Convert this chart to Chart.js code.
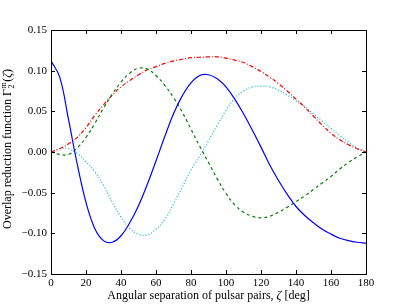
<!DOCTYPE html>
<html>
<head>
<meta charset="utf-8">
<script src="https://cdn.jsdelivr.net/npm/chart.js@4"></script>
<style>
  body { margin: 0; background: #fff; }
  #wrap { width: 407px; height: 305px; position: relative; }
</style>
</head>
<body>
<div id="wrap"><canvas id="myChart"></canvas></div>
<script>
const ctx = document.getElementById('myChart');

// angular separation in degrees
var angles = [0, 5, 10, 15, 20, 25, 30, 35, 40, 45, 50, 55, 60, 65, 70, 75, 80, 85, 90,
    95, 100, 105, 110, 115, 120, 125, 130, 135, 140, 145, 150, 155, 160, 165, 170, 175, 180];

// values
var blueSolid = [0.112, 0.092, 0.040, -0.015, -0.062, -0.094, -0.109, -0.111, -0.103, -0.087,
    -0.066, -0.040, -0.011, 0.019, 0.047, 0.069, 0.085, 0.094, 0.095, 0.090, 0.080, 0.065,
    0.047, 0.027, 0.006, -0.016, -0.035, -0.052, -0.067, -0.078, -0.087, -0.095, -0.101,
    -0.106, -0.109, -0.111, -0.112];
var greenDashed = [0.000, -0.003, -0.003, 0.005, 0.018, 0.035, 0.054, 0.071, 0.086, 0.097,
    0.103, 0.102, 0.094, 0.082, 0.067, 0.049, 0.028, 0.007, -0.013, -0.033, -0.051, -0.065,
    -0.074, -0.079, -0.081, -0.079, -0.074, -0.068, -0.061, -0.054, -0.046, -0.038, -0.030,
    -0.021, -0.013, -0.006, 0.000];
var redDashDot = [0.000, 0.004, 0.010, 0.018, 0.030, 0.045, 0.058, 0.070, 0.080, 0.088,
    0.095, 0.101, 0.105, 0.109, 0.112, 0.114, 0.116, 0.1165, 0.117, 0.117, 0.1155, 0.113,
    0.110, 0.105, 0.099, 0.092, 0.084, 0.075, 0.065, 0.055, 0.044, 0.033, 0.023, 0.015,
    0.009, 0.004, 0.000];
var cyanDotted = [0.000, 0.004, 0.004, -0.002, -0.012, -0.024, -0.041, -0.062, -0.080, -0.094,
    -0.101, -0.102, -0.095, -0.083, -0.064, -0.043, -0.022, -0.005, 0.014, 0.033, 0.051,
    0.066, 0.075, 0.080, 0.081, 0.080, 0.076, 0.070, 0.063, 0.056, 0.047, 0.038, 0.029,
    0.020, 0.012, 0.005, 0.000];

var xTicks = [0, 20, 40, 60, 80, 100, 120, 140, 160, 180];
var yTicks = [-0.15, -0.10, -0.05, 0.00, 0.05, 0.10, 0.15];

var serif = "'Liberation Serif', 'DejaVu Serif', serif";

function toPoints(values) {
    var pts = [];
    for (let i = 0; i < angles.length; i++) {
        pts.push({ x: angles[i], y: values[i] });
    }
    return pts;
}

function makeLine(values, color, dash) {
    return {
        data: toPoints(values),
        borderColor: color,
        borderWidth: 1.2,
        borderDash: dash,
        pointRadius: 0,
        fill: false,
        tension: 0.4
    };
}

// frame, inward ticks and the two axis titles
const framePlugin = {
    id: 'frame',
    afterDraw(chart) {
        var c = chart.ctx;
        var a = chart.chartArea;
        var xs = chart.scales.x;
        var ys = chart.scales.y;
        c.save();
        c.strokeStyle = '#000';
        c.lineWidth = 1;
        c.beginPath();
        xTicks.forEach(function (t) {
            var px = Math.round(xs.getPixelForValue(t)) + 0.5;
            c.moveTo(px, a.bottom); c.lineTo(px, a.bottom - 4);
            c.moveTo(px, a.top); c.lineTo(px, a.top + 4);
        });
        yTicks.forEach(function (t) {
            var py = Math.round(ys.getPixelForValue(t)) + 0.5;
            c.moveTo(a.left, py); c.lineTo(a.left + 4, py);
            c.moveTo(a.right, py); c.lineTo(a.right - 4, py);
        });
        c.stroke();
        c.strokeRect(Math.round(a.left) + 0.5, Math.round(a.top) + 0.5,
            Math.round(a.right - a.left), Math.round(a.bottom - a.top));

        c.fillStyle = '#000';
        c.textBaseline = 'middle';

        // x title
        var parts = [
            ['Angular separation of pulsar pairs, ', '12px ' + serif],
            ['ζ', 'italic 12px ' + serif],
            [' [deg]', '12px ' + serif]
        ];
        var total = 0;
        parts.forEach(function (p) { c.font = p[1]; total += c.measureText(p[0]).width; });
        var x = (a.left + a.right) / 2 - total / 2;
        c.textAlign = 'left';
        parts.forEach(function (p) {
            c.font = p[1];
            c.fillText(p[0], x, 296);
            x += c.measureText(p[0]).width;
        });

        // y title, rotated
        c.translate(8, (a.top + a.bottom) / 2 - 3);
        c.rotate(-Math.PI / 2);
        var main = '12px ' + serif;
        var small = '8px ' + serif;
        var ital = 'italic 12px ' + serif;
        c.font = main;
        var w1 = c.measureText('Overlap reduction function Γ').width;
        c.font = small;
        var w2 = Math.max(c.measureText('m').width, c.measureText('2').width) + 1;
        c.font = main;
        var w3 = c.measureText('(').width + c.measureText(')').width;
        c.font = ital;
        w3 += c.measureText('ζ').width;
        var yx = -(w1 + w2 + w3) / 2;
        c.font = main;
        c.fillText('Overlap reduction function Γ', yx, 0);
        yx += w1;
        c.font = small;
        c.fillText('m', yx + 0.5, -4);
        c.fillText('2', yx + 0.5, 4);
        yx += w2;
        c.font = main;
        c.fillText('(', yx, 0);
        yx += c.measureText('(').width;
        c.font = ital;
        c.fillText('ζ', yx, 0);
        yx += c.measureText('ζ').width;
        c.font = main;
        c.fillText(')', yx, 0);
        c.restore();
    }
};

function createGraph() {
    new Chart(
        ctx,
        {
            type: 'line',
            data: {
                datasets: [
                    makeLine(blueSolid, '#0000ff', []),
                    makeLine(greenDashed, '#008000', [3, 3]),
                    makeLine(redDashDot, '#ff0000', [4, 2, 1, 2]),
                    makeLine(cyanDotted, '#00bfbf', [1, 2])
                ]
            },
            options: {
                responsive: true,
                maintainAspectRatio: false,
                animation: false,
                layout: {
                    padding: { left: 0, right: 41, top: 30, bottom: 0 }
                },
                plugins: {
                    legend: { display: false },
                    tooltip: { enabled: false }
                },
                scales: {
                    x: {
                        type: 'linear',
                        min: 0,
                        max: 180,
                        afterFit: function (s) { s.height = 31; },
                        afterBuildTicks: function (s) {
                            s.ticks = xTicks.map(function (v) { return { value: v }; });
                        },
                        grid: { display: false, drawTicks: false },
                        border: { display: false },
                        ticks: {
                            padding: 3,
                            color: '#000',
                            font: { family: serif, size: 11 },
                            maxRotation: 0,
                            callback: function (v) { return String(v); }
                        }
                    },
                    y: {
                        type: 'linear',
                        min: -0.15,
                        max: 0.15,
                        afterFit: function (s) { s.width = 51; },
                        afterBuildTicks: function (s) {
                            s.ticks = yTicks.map(function (v) { return { value: v }; });
                        },
                        grid: { display: false, drawTicks: false },
                        border: { display: false },
                        ticks: {
                            padding: 4,
                            color: '#000',
                            font: { family: serif, size: 11 },
                            callback: function (v) {
                                if (Math.abs(v) < 1e-9) return '0.00';
                                return (v < 0 ? '\u2212' : '') + Math.abs(v).toFixed(2);
                            }
                        }
                    }
                }
            },
            plugins: [framePlugin]
        });
};


createGraph();
</script>
</body>
</html>
